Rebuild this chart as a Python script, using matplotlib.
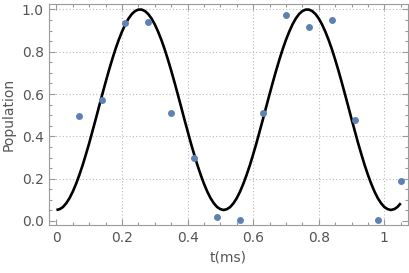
import matplotlib
matplotlib.use("Agg")
import matplotlib.pyplot as plt
from matplotlib.ticker import MultipleLocator

# measured data points
t_data = [0.07, 0.14, 0.21, 0.28, 0.35, 0.42, 0.49, 0.56, 0.63, 0.70, 0.77, 0.84, 0.91, 0.98, 1.05]
pop_data = [0.494, 0.574, 0.936, 0.940, 0.508, 0.296, 0.019, 0.005, 0.508, 0.972, 0.919, 0.952, 0.475, 0.005, 0.187]

# fitted curve
t_fit = [0.00, 0.01, 0.02, 0.03, 0.04, 0.05, 0.06, 0.07, 0.08, 0.09,
         0.10, 0.11, 0.12, 0.13, 0.14, 0.15, 0.16, 0.17, 0.18, 0.19,
         0.20, 0.21, 0.22, 0.23, 0.24, 0.25, 0.26, 0.27, 0.28, 0.29,
         0.30, 0.31, 0.32, 0.33, 0.34, 0.35, 0.36, 0.37, 0.38, 0.39,
         0.40, 0.41, 0.42, 0.43, 0.44, 0.45, 0.46, 0.47, 0.48, 0.49,
         0.50, 0.51, 0.52, 0.53, 0.54, 0.55, 0.56, 0.57, 0.58, 0.59,
         0.60, 0.61, 0.62, 0.63, 0.64, 0.65, 0.66, 0.67, 0.68, 0.69,
         0.70, 0.71, 0.72, 0.73, 0.74, 0.75, 0.76, 0.77, 0.78, 0.79,
         0.80, 0.81, 0.82, 0.83, 0.84, 0.85, 0.86, 0.87, 0.88, 0.89,
         0.90, 0.91, 0.92, 0.93, 0.94, 0.95, 0.96, 0.97, 0.98, 0.99,
         1.00, 1.01, 1.02, 1.03, 1.04, 1.05]
pop_fit = [0.052, 0.056, 0.066, 0.084, 0.108, 0.139, 0.176, 0.218, 0.264, 0.315,
           0.368, 0.425, 0.482, 0.541, 0.599, 0.656, 0.711, 0.763, 0.812, 0.856,
           0.895, 0.929, 0.957, 0.978, 0.992, 0.999, 0.999, 0.992, 0.978, 0.957,
           0.929, 0.895, 0.856, 0.812, 0.763, 0.711, 0.656, 0.599, 0.541, 0.482,
           0.425, 0.368, 0.315, 0.264, 0.218, 0.176, 0.139, 0.108, 0.084, 0.066,
           0.056, 0.052, 0.056, 0.066, 0.084, 0.108, 0.139, 0.176, 0.218, 0.264,
           0.315, 0.368, 0.425, 0.482, 0.541, 0.599, 0.656, 0.711, 0.763, 0.812,
           0.856, 0.895, 0.929, 0.957, 0.978, 0.992, 0.999, 0.999, 0.992, 0.978,
           0.957, 0.929, 0.895, 0.856, 0.812, 0.763, 0.711, 0.656, 0.599, 0.541,
           0.482, 0.425, 0.368, 0.315, 0.264, 0.218, 0.176, 0.139, 0.108, 0.084,
           0.066, 0.056, 0.052, 0.056, 0.066, 0.084]

x_ticks = [0, 0.2, 0.4, 0.6, 0.8, 1.0]
x_tick_labels = ["0", "0.2", "0.4", "0.6", "0.8", "1"]
y_ticks = [0.0, 0.2, 0.4, 0.6, 0.8, 1.0]
y_tick_labels = ["0.0", "0.2", "0.4", "0.6", "0.8", "1.0"]

fig = plt.figure(figsize=(4.10, 2.73), dpi=100)
ax = fig.add_axes([0.120, 0.175, 0.875, 0.810])

axis_gray = "#9a9a9a"
text_gray = "#555555"

for x in x_ticks[1:]:
    ax.axvline(x, color="#bbbbbb", lw=0.8, ls=(0, (1, 2)), zorder=0)
for y in y_ticks[1:]:
    ax.axhline(y, color="#bbbbbb", lw=0.8, ls=(0, (1, 2)), zorder=0)

ax.plot(t_data, pop_data, "o", color="#5E81B5", ms=5, mec="none", zorder=3)
ax.plot(t_fit, pop_fit, color="black", lw=1.9, solid_joinstyle="round",
        solid_capstyle="butt", zorder=2)

ax.set_xlim(-0.022, 1.072)
ax.set_ylim(-0.02, 1.025)

ax.set_xticks(x_ticks)
ax.set_xticklabels(x_tick_labels)
ax.set_yticks(y_ticks)
ax.set_yticklabels(y_tick_labels)
ax.xaxis.set_minor_locator(MultipleLocator(0.05))
ax.yaxis.set_minor_locator(MultipleLocator(0.05))

ax.tick_params(which="both", direction="in", top=True, right=True,
               color=axis_gray, width=0.8)
ax.tick_params(which="major", length=4.5, labelsize=10, labelcolor=text_gray, pad=4)
ax.tick_params(which="minor", length=2.5)

for s in ax.spines.values():
    s.set_color(axis_gray)
    s.set_linewidth(0.8)

ax.set_xlabel("t(ms)", fontsize=10, color=text_gray, labelpad=4)
ax.set_ylabel("Population", fontsize=10, color=text_gray, labelpad=4)

fig.savefig("out.png", dpi=100)
